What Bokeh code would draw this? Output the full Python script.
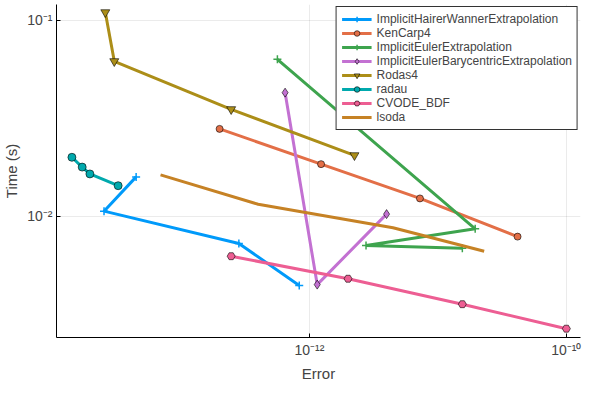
from bokeh.plotting import figure
from bokeh.models import FixedTicker, Range1d
from bokeh.embed import file_html
from bokeh.resources import INLINE

names = ["ImplicitHairerWannerExtrapolation", "KenCarp4", "ImplicitEulerExtrapolation",
         "ImplicitEulerBarycentricExtrapolation", "Rodas4", "radau", "CVODE_BDF", "lsoda"]
colors = ["#009AFA", "#E36F47", "#3EA44E", "#C371D2", "#AC8E18", "#00A9AD", "#ED5E93", "#C68225"]
markers = ["cross", "circle", "cross", "diamond", "inverted_triangle", "circle", "hex", None]
msizes = [8, 7, 8, 9, 9, 8, 8, 0]

err_exp = [
    [-13.35, -13.60, -12.55, -12.08],
    [-12.70, -11.91, -11.14, -10.38],
    [-12.25, -10.71, -11.56, -10.81],
    [-12.19, -11.94, -11.40],
    [-13.59, -13.52, -12.61, -11.65],
    [-13.85, -13.77, -13.71, -13.49],
    [-12.61, -11.70, -10.81, -10.00],
    [-13.16, -12.40, -11.35, -10.64],
]
time_exp = [
    [-1.80, -1.975, -2.14, -2.355],
    [-1.555, -1.735, -1.91, -2.105],
    [-1.20, -2.065, -2.15, -2.165],
    [-1.37, -2.35, -1.99],
    [-0.96, -1.21, -1.455, -1.69],
    [-1.70, -1.75, -1.785, -1.845],
    [-2.205, -2.32, -2.45, -2.575],
    [-1.79, -1.94, -2.06, -2.18],
]

p = figure(width=584, height=384, x_axis_type="log", y_axis_type="log",
           output_backend="svg", toolbar_location=None,
           x_range=Range1d(10**-13.97, 10**-9.89), y_range=Range1d(10**-2.62, 10**-0.92),
           min_border_left=4, min_border_right=4, min_border_top=4, min_border_bottom=4)
p.outline_line_color = None
for i, n in enumerate(names):
    xs = [10**e for e in err_exp[i]]
    ys = [10**e for e in time_exp[i]]
    p.line(xs, ys, line_color=colors[i], line_width=3, legend_label=n)
    if markers[i]:
        if markers[i] == "cross":
            p.scatter(xs, ys, marker="cross", size=msizes[i], line_color=colors[i],
                      line_width=1.5, legend_label=n)
        else:
            p.scatter(xs, ys, marker=markers[i], size=msizes[i], fill_color=colors[i],
                      line_color="black", line_width=0.6, legend_label=n)

p.xaxis.ticker = FixedTicker(ticks=[1e-12, 1e-10])
p.xaxis.major_label_overrides = {1e-12: "10⁻¹²", 1e-10: "10⁻¹⁰"}
p.yaxis.ticker = FixedTicker(ticks=[1e-2, 1e-1])
p.yaxis.major_label_overrides = {1e-2: "10⁻²", 1e-1: "10⁻¹"}
for ax in (p.xaxis, p.yaxis):
    ax.minor_tick_line_color = None
    ax.major_tick_in = 4
    ax.major_tick_out = 0
    ax.axis_line_color = "black"
    ax.major_label_text_font_size = "14px"
    ax.major_label_standoff = 4
    ax.axis_label_text_font_size = "15px"
    ax.axis_label_text_font_style = "normal"
    ax.axis_label_standoff = 4
p.xaxis.axis_label = "Error"
p.yaxis.axis_label = "Time (s)"
p.grid.grid_line_color = "#000000"
p.grid.grid_line_alpha = 0.08
p.legend.location = "top_right"
p.legend.label_text_font_size = "12px"
p.legend.label_height = 12
p.legend.glyph_height = 14
p.legend.glyph_width = 30
p.legend.spacing = 0
p.legend.padding = 5
p.legend.margin = 2
p.legend.border_line_color = "black"
p.legend.border_line_alpha = 0.8
p.legend.background_fill_alpha = 1.0

open("out.html", "w").write(file_html(p, INLINE))
